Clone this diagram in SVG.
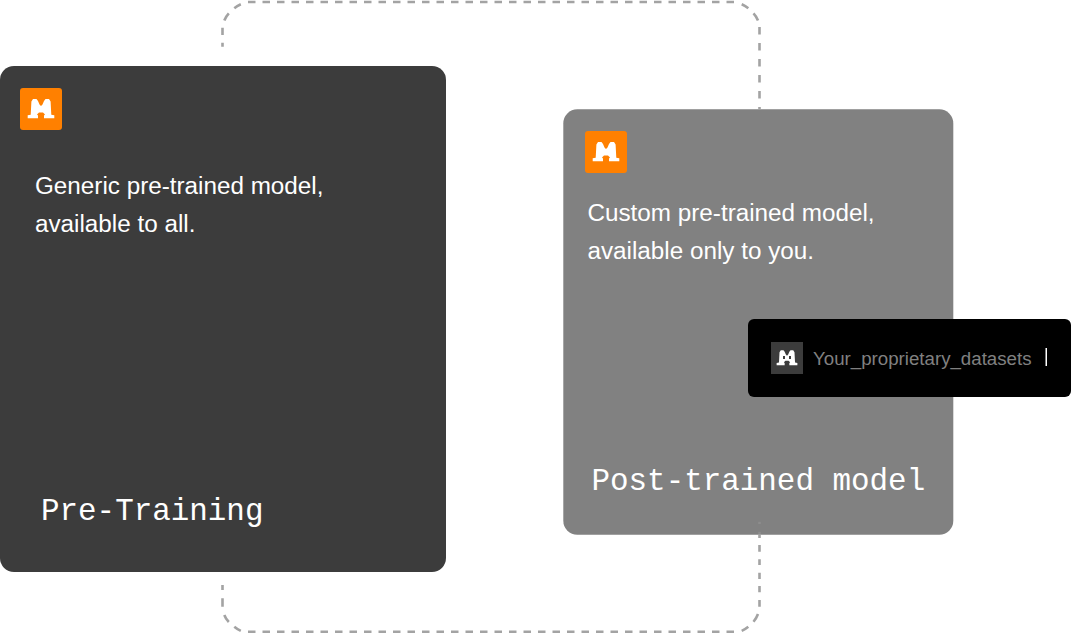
<svg xmlns="http://www.w3.org/2000/svg" width="1080" height="633" viewBox="0 0 1080 633">
<style>
.body{font-family:"Liberation Sans",Arial,sans-serif;font-size:24.25px;fill:#fff}
.mono{font-family:"Liberation Mono","DejaVu Sans Mono",monospace;font-size:30.900px;fill:#fff}
.badge{fill:#ff8000}
.dash{fill:none;stroke:#a3a3a3;stroke-width:2.600}
</style>
<defs>
<path id="m" d="M-13.300 9.300 L-13.300 6.300 L-10.300 5.800 L-9.600 -7.500 L-8 -10 L-4.500 -10 L-3 -8 L-1.500 -4.500 L0 -3 L1.500 -4.500 L3 -8 L4.500 -10 L8 -10 L9.600 -7.500 L10.300 5.800 L13.300 6.300 L13.300 9.300 L3 9.300 L3 6.500 L4 5.500 L2 3.500 L-2 3.500 L-4 5.500 L-3 6.500 L-3 9.300 Z" fill="#fff"/>
</defs>
<g id="pre-training">
<rect x="0" y="66" width="446" height="506" rx="14" fill="#3c3c3c"/>
<rect class="badge" x="20" y="88" width="42" height="42" rx="3"/>
<use href="#m" x="41" y="109"/>
<text class="body" x="35" y="194">Generic pre-trained model,</text>
<text class="body" x="35" y="232">available to all.</text>
<text class="mono" x="41" y="520">Pre-Training</text>
</g>
<g id="post-trained">
<rect x="563.300" y="109.300" width="390" height="425.500" rx="14" fill="#818181"/>
<rect class="badge" x="585" y="131" width="42" height="42" rx="3"/>
<use href="#m" x="606" y="152"/>
<text class="body" x="587.500" y="221">Custom pre-trained model,</text>
<text class="body" x="587.500" y="259">available only to you.</text>
<text class="mono" x="591.500" y="490">Post-trained model</text>
</g>
<g id="datasets">
<rect x="748" y="319" width="323" height="78" rx="6" fill="#000"/>
<rect x="771" y="342" width="32" height="32" fill="#3c3c3c"/>
<use href="#m" transform="translate(787 358) scale(.78)"/>
<rect x="783" y="356" width="2" height="3" fill="#3c3c3c"/>
<rect x="789" y="356" width="2" height="3" fill="#3c3c3c"/>
<text x="813" y="365" font-family="'Liberation Sans',Arial,sans-serif" font-size="18.700" fill="#808080">Your_proprietary_datasets</text>
<rect x="1045.500" y="348" width="1.500" height="18" fill="#fff"/>
</g>
<g id="connectors">
<path class="dash" d="M222.500 46.700V42.700M222.500 35V27.700M224.300 20.500Q225.800 16.500 228.800 13.300M234.300 8.300Q237 6 240.800 4.300"/>
<path class="dash" stroke-dasharray="7.500 7" d="M248 2H735"/>
<path class="dash" d="M741.700 4.300Q745.500 6 748.300 8.300M753.500 13.300Q756.500 16.500 758 20.500"/>
<path class="dash" stroke-dasharray="7.500 8.500" d="M759.500 27V109"/>
<path class="dash" d="M222.500 585V590M222.500 598.300V606.700M224.300 615Q225.800 619 228.800 622M234.300 626.700Q237 629 240.800 630.800"/>
<path class="dash" stroke-dasharray="7.500 7" d="M248 631.800H735"/>
<path class="dash" d="M741.700 630.800Q745.500 629 748.300 626.700M753.500 621.700Q756.500 618 758 614"/>
<path class="dash" d="M759.500 606.700V600M759.500 592.300V586M759.500 579V572.700M759.500 565V559.300M759.500 551.700V545M759.500 538V534.800"/>
<path class="dash" opacity=".35" d="M759.500 534.800V531.700M759.500 524V521.700"/>
</g>
</svg>
